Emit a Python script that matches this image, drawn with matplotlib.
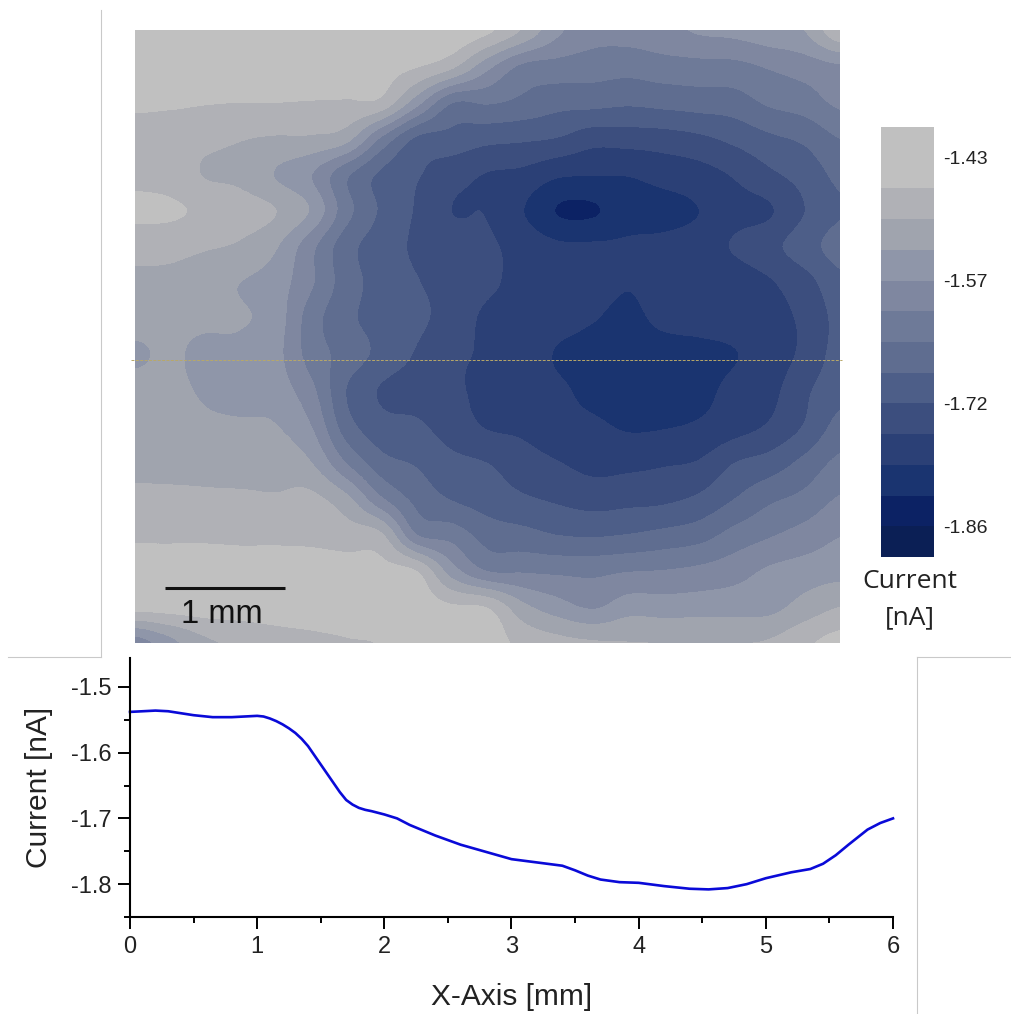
#!/usr/bin/python

import numpy as np
import matplotlib
matplotlib.use('Agg')
import matplotlib.pyplot as plt
from matplotlib.colors import ListedColormap, BoundaryNorm
from matplotlib.lines import Line2D

W, H = 1012, 1014

### map values: position on the colour scale (number of bands below the top of the bar)
### rows run from the top of the map to the bottom, 0.3 mm apart
band_depth = [
    [.8, .8, .8, .8, .8, .8, .8, .9, 1.0, 1.2, 1.8, 3.1, 4.8, 5.6, 5.6, 5.3, 4.9, 4.75, 4.4, 4.0, 2.2],
    [1.4, 1.4, 1.4, 1.4, 1.4, 1.45, 1.5, 1.6, 1.95, 2.8, 4.7, 6.2, 6.4, 6.55, 6.65, 6.45, 6.35, 6.3, 5.9, 5.55, 5.15],
    [1.8, 1.85, 1.95, 2.0, 2.0, 2.05, 2.1, 2.3, 4.6, 6.95, 6.9, 7.25, 7.65, 7.7, 7.85, 7.7, 7.55, 7.45, 6.85, 6.5, 5.8],
    [2.45, 2.6, 2.75, 2.95, 3.1, 3.15, 3.65, 6.15, 8.15, 8.35, 8.7, 8.85, 9.05, 9.6, 9.55, 9.45, 9.2, 8.75, 8.2, 7.8, 7.0],
    [2.25, 2.45, 3.05, 3.25, 4.05, 4.95, 6.8, 8.2, 8.9, 9.6, 10.05, 10.25, 10.85, 10.95, 10.95, 10.65, 10.4, 9.9, 9.2, 8.6, 7.75],
    [1.8, 1.85, 2.2, 2.55, 2.98, 4.1, 6.6, 8.15, 9.1, 10.0, 10.05, 10.95, 12.05, 12.1, 11.4, 11.3, 11.0, 10.35, 10.1, 9.0, 8.1],
    [2.6, 2.65, 2.9, 3.15, 3.9, 5.7, 7.6, 8.5, 9.15, 9.5, 9.85, 10.3, 10.8, 10.85, 10.85, 10.75, 10.55, 9.9, 9.3, 8.45, 7.6],
    [3.3, 3.35, 3.7, 4.0, 4.5, 5.85, 7.5, 8.4, 8.95, 9.3, 9.8, 10.3, 10.5, 10.7, 10.95, 10.7, 10.95, 10.6, 10.1, 9.4, 8.3],
    [3.7, 3.8, 3.85, 3.9, 4.5, 6.5, 7.75, 8.35, 8.8, 9.4, 10.2, 10.4, 10.6, 10.95, 11.2, 10.8, 10.7, 10.55, 10.3, 9.8, 8.7],
    [4.1, 3.9, 4.2, 4.3, 4.7, 6.4, 7.4, 8.3, 9.1, 9.8, 10.1, 10.3, 11.1, 11.4, 11.5, 11.4, 11.3, 11.05, 10.5, 9.75, 8.6],
    [3.7, 3.8, 4.1, 4.35, 4.5, 5.7, 8.0, 9.1, 9.45, 9.85, 10.2, 10.5, 10.8, 11.3, 11.5, 11.5, 11.3, 10.7, 10.3, 9.2, 8.3],
    [3.5, 3.6, 3.8, 3.85, 3.95, 4.95, 7.5, 8.6, 8.8, 9.5, 10.05, 10.2, 10.6, 10.8, 11.1, 11.05, 10.85, 10.4, 9.85, 8.9, 7.65],
    [3.2, 3.25, 3.25, 3.35, 3.4, 3.95, 6.0, 7.6, 8.1, 8.7, 9.0, 9.55, 9.95, 10.3, 10.25, 10.1, 9.9, 9.0, 8.55, 7.7, 6.75],
    [2.8, 2.8, 2.85, 2.85, 2.9, 2.75, 3.7, 5.85, 7.3, 8.05, 8.45, 8.85, 9.15, 9.4, 9.3, 9.2, 8.8, 8.0, 7.2, 6.7, 5.9],
    [2.15, 2.15, 2.15, 2.2, 2.2, 2.25, 2.5, 2.85, 5.95, 6.4, 7.4, 7.65, 8.0, 8.1, 7.95, 7.7, 7.4, 6.65, 6.1, 5.6, 5.05],
    [1.6, 1.6, 1.6, 1.6, 1.6, 1.55, 1.6, 1.7, 2.0, 4.5, 6.0, 6.1, 6.2, 6.25, 6.05, 5.95, 5.75, 5.4, 4.85, 4.55, 4.35],
    [1.65, 1.6, 1.55, 1.55, 1.55, 1.55, 1.55, 1.5, 1.5, 1.85, 2.05, 3.7, 4.55, 5.1, 4.45, 4.5, 4.45, 4.4, 4.3, 3.6, 3.0],
    [5.5, 4.3, 3.2, 2.8, 2.4, 2.2, 2.05, 1.95, 1.4, 1.3, 1.4, 2.3, 2.7, 2.9, 2.97, 3.0, 3.0, 3.0, 2.9, 2.2, 1.6],
]

### colour scale, lightest band first
band_colors = ['#c0c0c0', '#c0c0c0', '#b0b1b6', '#a0a4ae', '#8f96a9', '#7f87a0',
               '#6e7a98', '#5f6d90', '#4d5e88', '#3c4e7e', '#2b4076', '#1a3470',
               '#0c2264', '#0b1f55']
scale_top = -1.394
band_step = 0.0357
cbar_ticks = ['-1.43', '-1.57', '-1.72', '-1.86']

### line profile
profile_x = [0, .1, .2, .3, .4, .5, .65, .8, .9, 1.0, 1.05, 1.1, 1.15, 1.2, 1.25, 1.3, 1.35, 1.4, 1.45, 1.5,
             1.55, 1.6, 1.65, 1.7, 1.75, 1.8, 1.85, 1.9, 2.0, 2.1, 2.2, 2.4, 2.6,
             2.8, 3.0, 3.2, 3.4, 3.5, 3.6, 3.7, 3.85, 4.0, 4.2, 4.4, 4.55, 4.7, 4.85, 5.0, 5.2, 5.35, 5.45, 5.55,
             5.65, 5.8, 5.9, 6.0]
profile_y = [-1.538, -1.537, -1.536, -1.537, -1.540, -1.543, -1.546, -1.546, -1.545, -1.544, -1.545, -1.548,
             -1.552, -1.557, -1.563, -1.570, -1.579, -1.590, -1.604, -1.618, -1.632,
             -1.646, -1.660, -1.672, -1.679, -1.684, -1.687, -1.689, -1.694, -1.700, -1.710, -1.726, -1.740,
             -1.751, -1.762, -1.767, -1.772, -1.779, -1.787, -1.793, -1.797, -1.798, -1.803, -1.807, -1.808,
             -1.806, -1.800, -1.791, -1.782, -1.777, -1.769, -1.756, -1.740, -1.717, -1.707, -1.700]

def box(x0, y0, x1, y1):
    # pixel box (from the top left) to figure fractions
    return [x0 / W, 1 - y1 / H, (x1 - x0) / W, (y1 - y0) / H]

plt.rcParams['font.family'] = ['Liberation Sans', 'DejaVu Sans']
fig = plt.figure(figsize=(W / 100, H / 100), dpi=100)

### map
levels = scale_top - band_step * np.arange(len(band_colors) + 1)
levels = levels[::-1]
cmap = ListedColormap(band_colors[::-1])
norm = BoundaryNorm(levels, cmap.N)
cur = scale_top - band_step * np.array(band_depth)

dx, dy = 0.29375, 0.3
ax = fig.add_axes(box(135, 30, 840, 643))
im = ax.imshow(cur, cmap=cmap, norm=norm, interpolation='catrom', interpolation_stage='data',
               extent=[-dx / 2, 20 * dx + dx / 2, -dy / 2, 17 * dy + dy / 2], aspect='auto')
ax.set_xlim(0, 5.875)
ax.set_ylim(0, 5.108)
ax.axis('off')

# scan line and scale bar
ax.plot([-0.03, 5.89], [2.36, 2.36], color='#b8a868', lw=0.7, ls=(0, (3, 1.5)), clip_on=False)
ax.plot([0.25, 1.25], [0.458, 0.458], color='#111111', lw=2.2, solid_capstyle='butt')
ax.text(0.72, 0.235, '1 mm', fontsize=23.5, ha='center', va='center', color='#111111')

### colour bar
cax = fig.add_axes(box(881, 127, 934, 557))
cb = fig.colorbar(im, cax=cax, spacing='uniform', drawedges=False)
cb.outline.set_visible(False)
cb.ax.minorticks_off()
cb.set_ticks([scale_top - band_step * k for k in (1, 5, 9, 13)])
cb.set_ticklabels(cbar_ticks)
cb.ax.tick_params(length=0, pad=6.5, labelsize=14, labelcolor='#222222')
fig.text(910 / W, 1 - 581 / H, 'Current', family='Open Sans', fontsize=19, ha='center', va='center', color='#222222')
fig.text(910 / W, 1 - 618 / H, '[nA]', family='Open Sans', fontsize=19, ha='center', va='center', color='#222222')

### profile plot
ax2 = fig.add_axes(box(130, 658, 893, 917))
ax2.plot(profile_x, profile_y, color='#0a0ad8', lw=1.9, clip_on=False)
ax2.set_xlim(0, 6)
ax2.set_ylim(-1.85, -1.456)
ax2.set_xticks([0, 1, 2, 3, 4, 5, 6])
ax2.set_xticks(np.arange(0.5, 6, 1), minor=True)
ax2.set_yticks([-1.8, -1.7, -1.6, -1.5])
ax2.set_yticks([-1.85, -1.75, -1.65, -1.55], minor=True)
ax2.set_yticklabels(['-1.8', '-1.7', '-1.6', '-1.5'])
ax2.tick_params(which='major', length=8.5, width=1.4, labelsize=17, pad=5, labelcolor='#222222')
ax2.tick_params(which='minor', length=4.5, width=1.4)
for s in ['top', 'right']:
    ax2.spines[s].set_visible(False)
for s in ['left', 'bottom']:
    ax2.spines[s].set_linewidth(1.5)
ax2.set_xlabel('X-Axis [mm]', fontsize=21.5, labelpad=18, color='#222222')
ax2.set_ylabel('Current [nA]', fontsize=21.5, labelpad=13, color='#222222')

### thin grey frame pieces
frame = [([101, 101], [10, 657]), ([8, 101], [657, 657]), ([917, 1012], [657, 657]), ([917, 917], [657, 1014])]
for fx, fy in frame:
    fig.add_artist(Line2D(np.array(fx) / W, 1 - np.array(fy) / H, color='#c9c9c9', lw=0.8))

plt.savefig('out.png', dpi=100)
